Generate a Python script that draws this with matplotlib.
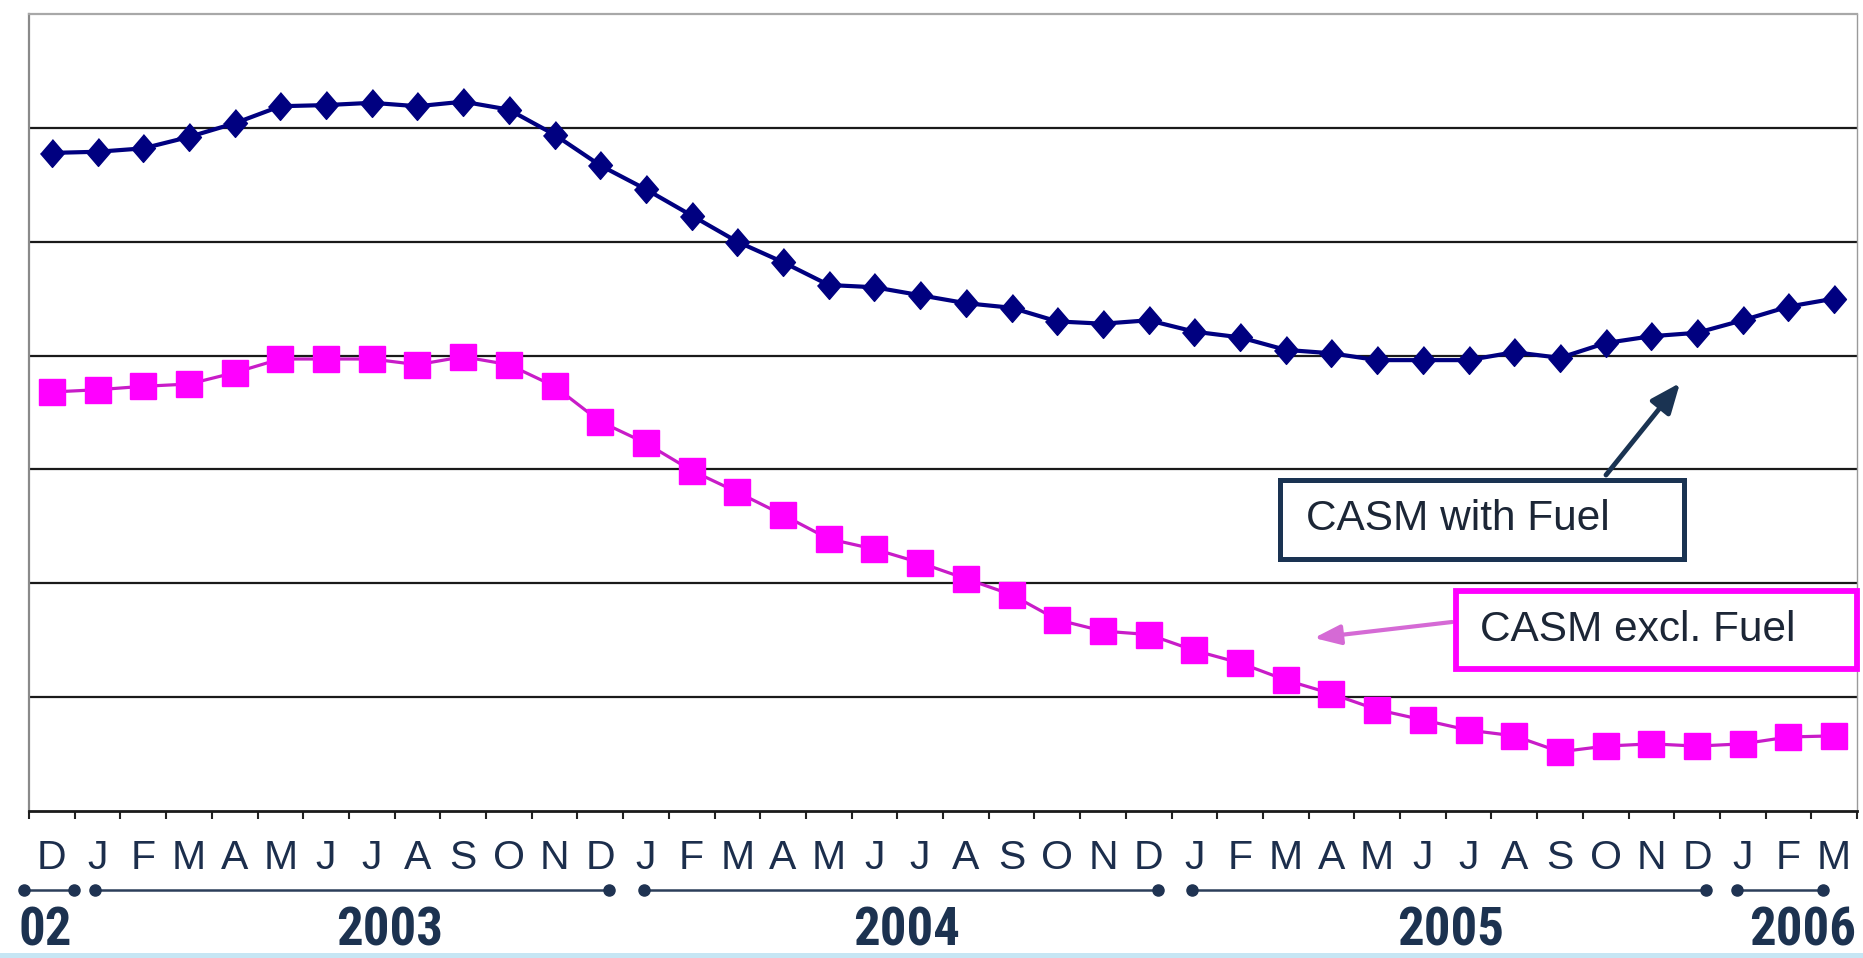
import os
import numpy as np
import matplotlib
matplotlib.use("Agg")
import matplotlib.pyplot as plt
import matplotlib.transforms as mtransforms
from matplotlib import font_manager
from matplotlib.font_manager import FontProperties
from matplotlib.patches import Rectangle

# ---- data -------------------------------------------------------------
months = list("DJFMAMJJASONDJFMAMJJASONDJFMAMJJASONDJFM")

casm_with_fuel = [5.78, 5.79, 5.82, 5.92, 6.04, 6.19, 6.20, 6.22, 6.19, 6.23,
                  6.16, 5.94, 5.67, 5.46, 5.23, 5.00, 4.82, 4.62, 4.60, 4.53,
                  4.46, 4.42, 4.30, 4.28, 4.31, 4.21, 4.16, 4.05, 4.02, 3.96,
                  3.96, 3.96, 4.03, 3.98, 4.11, 4.17, 4.20, 4.31, 4.43, 4.50]

casm_excl_fuel = [3.68, 3.70, 3.73, 3.75, 3.85, 3.97, 3.97, 3.97, 3.92, 3.99,
                  3.92, 3.73, 3.42, 3.23, 2.99, 2.80, 2.60, 2.39, 2.30, 2.18,
                  2.04, 1.90, 1.68, 1.58, 1.55, 1.41, 1.30, 1.15, 1.03, 0.89,
                  0.80, 0.71, 0.66, 0.52, 0.57, 0.59, 0.57, 0.59, 0.65, 0.66]

series_names = ["CASM with Fuel", "CASM excl. Fuel"]

year_labels = ["02", "2003", "2004", "2005", "2006"]
year_first_month = [0, 1, 13, 25, 37]
year_last_month = [0, 12, 24, 36, 39]

# ---- layout helpers (figure pixels, measured from the top-left) -------
W, H = 1863, 958
fig = plt.figure(figsize=(W / 100, H / 100), dpi=100)
fig.patch.set_facecolor("white")


def fx(px):
    return px / W


def fy(py):
    return 1 - py / H


names = {f.name for f in font_manager.fontManager.ttflist}
SANS = "Liberation Sans" if "Liberation Sans" in names else "DejaVu Sans"

# bold, narrow face for the year captions
files = {os.path.basename(f.fname): f.fname for f in font_manager.fontManager.ttflist}
narrow_choices = [
    ("LiberationSansNarrow-Bold.ttf", 39),
    ("NotoSans-CondensedBold.ttf", 39),
    ("NotoSans-ExtraCondensedBold.ttf", 39),
    ("RobotoCondensed-Bold.ttf", 38),
    ("OpenSans_Condensed-Bold.ttf", 37),
    ("DejaVuSansCondensed-Bold.ttf", 33),
]
year_prop, year_size = None, 33
for fname, size in narrow_choices:
    if fname in files:
        year_prop, year_size = FontProperties(fname=files[fname]), size
        break
if year_prop is None:
    year_prop = FontProperties(family="DejaVu Sans", stretch="condensed",
                               weight="bold")
year_prop.set_size(year_size)

NAVY = "#000080"
MAGENTA = "#ff00ff"
LABEL = "#1c2e4c"

ax = fig.add_axes([fx(29), fy(811), fx(1857) - fx(29), fy(14) - fy(811)])
ax.set_xlim(-0.5, len(months) - 0.5)
ax.set_ylim(0, 7)

# horizontal grid
ax.set_yticks(np.arange(1, 7))
ax.yaxis.grid(True, color="#1a1a1a", linewidth=1.6)
ax.set_axisbelow(True)
ax.tick_params(axis="y", length=0, labelleft=False)

# month boundaries as ticks
ax.set_xticks(np.arange(-0.5, len(months), 1.0))
ax.tick_params(axis="x", direction="out", length=5.5, width=1.5,
               color="#222222", labelbottom=False)

ax.spines["top"].set_color("#a8a8a8")
ax.spines["top"].set_linewidth(1.6)
ax.spines["left"].set_color("#8a8a8a")
ax.spines["left"].set_linewidth(1.6)
ax.spines["right"].set_color("#9a9a9a")
ax.spines["right"].set_linewidth(1.0)
ax.spines["bottom"].set_color("#1a1a1a")
ax.spines["bottom"].set_linewidth(2.0)

x = np.arange(len(months))
diamond = [(0, 1), (0.86, 0), (0, -1), (-0.86, 0)]

ax.plot(x, casm_with_fuel, color=NAVY, linewidth=3.0, marker=diamond,
        markersize=20, markerfacecolor=NAVY, markeredgecolor=NAVY,
        markeredgewidth=1, zorder=3, label=series_names[0])
ax.plot(x, casm_excl_fuel, color="#c81cc8", linewidth=2.3, marker="s",
        markersize=18.5, markerfacecolor=MAGENTA, markeredgecolor=MAGENTA,
        markeredgewidth=1, zorder=3, label=series_names[1])

# ---- month letters and year brackets ----------------------------------
trans = mtransforms.blended_transform_factory(ax.transData, fig.transFigure)
for i, m in enumerate(months):
    ax.text(i, fy(858), m, transform=trans, ha="center", va="center",
            fontsize=29.5, color=LABEL, family=SANS, clip_on=False)

n_years = len(year_labels)
for k in range(n_years):
    x0 = year_first_month[k] - 0.05
    x1 = year_last_month[k] + 0.2
    if k == 0:
        x0 = -0.6
        x1 = year_last_month[k] + 0.48
    if k == n_years - 1:
        x0 = year_first_month[k] - 0.13
        x1 = year_last_month[k] - 0.25
    ax.plot([x0, x1], [fy(890), fy(890)], transform=trans, clip_on=False,
            color="#2c3e5a", linewidth=1.8, marker="o", markersize=8,
            markerfacecolor="#1f3352", markeredgecolor="#1f3352")

year_label_x = [-0.14, 7.4, 18.7, 30.6, 38.3]
for lab, xl in zip(year_labels, year_label_x):
    ax.text(xl, fy(957), lab, transform=trans, ha="center", va="bottom",
            color="#1c3250", clip_on=False, fontproperties=year_prop)

# ---- callouts ---------------------------------------------------------
fig.add_artist(Rectangle((fx(1279.5), fy(558.5)), fx(1683.5) - fx(1279.5),
                         fy(479.5) - fy(558.5), transform=fig.transFigure,
                         facecolor="white", edgecolor="#1a3352",
                         linewidth=3.6, zorder=5))
fig.text(fx(1306), fy(519), series_names[0], ha="left", va="center",
         fontsize=30.5, color="#1c2636", family=SANS, zorder=6)
fig.add_artist(Rectangle((fx(1456), fy(669)), fx(1857) - fx(1456),
                         fy(591) - fy(669), transform=fig.transFigure,
                         facecolor="white", edgecolor=MAGENTA,
                         linewidth=4.2, zorder=5))
fig.text(fx(1480), fy(630), series_names[1], ha="left", va="center",
         fontsize=30.5, color="#1c2636", family=SANS, zorder=6)

ax.annotate("", xy=(1680, H - 383), xycoords="figure pixels",
            xytext=(1606, H - 475), textcoords="figure pixels",
            arrowprops=dict(arrowstyle="-|>,head_length=1.8,head_width=0.75",
                            color="#1a3352", lw=3.5, shrinkA=0, shrinkB=0),
            zorder=6)
ax.annotate("", xy=(1314, H - 638), xycoords="figure pixels",
            xytext=(1452, H - 622), textcoords="figure pixels",
            arrowprops=dict(arrowstyle="-|>,head_length=1.6,head_width=0.6",
                            color="#d56ad5", lw=3.0, shrinkA=0, shrinkB=0),
            zorder=6)

# thin light-blue strip along the bottom edge
fig.add_artist(Rectangle((0, 0), 1, 5 / H, transform=fig.transFigure,
                         facecolor="#c6e6f4", edgecolor="none", zorder=0))

fig.savefig("out.png", dpi=100, facecolor="white")
